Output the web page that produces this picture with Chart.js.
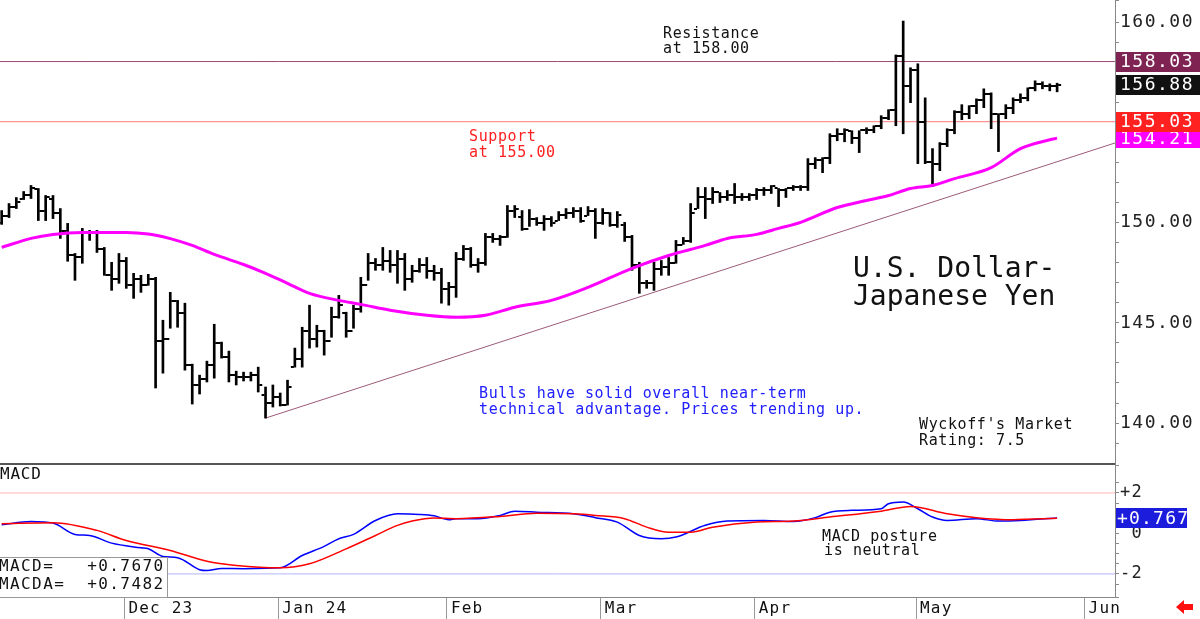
<!DOCTYPE html>
<html>
<head>
<meta charset="utf-8">
<script src="https://cdn.jsdelivr.net/npm/chart.js@4"></script>
<style>
  html, body { margin: 0; padding: 0; background: #fff; }
  #wrap { position: relative; width: 1200px; height: 619px; overflow: hidden; }
  canvas { position: absolute; left: 0; }
  #priceChart { top: 0; }
  #macdChart { top: 465px; }
</style>
</head>
<body>
<div id="wrap">
  <canvas id="priceChart" width="1200" height="465"></canvas>
  <canvas id="macdChart" width="1200" height="154"></canvas>
</div>
<script>
// daily bars, USD/JPY, Nov 8 2023 .. May 2024 (one value per trading day)
const highs = [
  150.60,150.95,151.25,151.55,151.85,151.70,151.35,151.35,150.70,149.96,
  148.46,149.71,149.61,149.61,148.76,148.02,148.46,148.26,147.47,147.37,
  147.42,147.27,145.13,146.52,146.12,145.98,142.94,142.39,143.09,144.93,
  144.04,143.59,142.59,142.54,142.54,142.79,141.80,141.90,141.50,142.14,
  143.74,144.78,145.88,144.88,144.63,145.78,146.37,145.53,145.88,147.27,
  148.46,148.21,148.76,148.61,148.61,148.46,147.87,148.21,148.26,147.87,
  147.72,147.02,148.51,148.86,148.76,148.21,149.46,149.46,149.36,150.85,
  150.85,150.60,150.65,150.25,150.35,150.30,150.55,150.70,150.75,150.75,
  150.80,150.70,150.70,150.50,150.55,150.01,149.36,148.02,147.12,148.02,
  148.11,148.26,149.11,149.26,150.95,151.75,151.75,151.75,151.50,151.60,
  151.95,151.45,151.45,151.70,151.75,151.85,151.70,151.70,151.85,151.85,
  153.19,153.24,153.24,154.43,154.68,154.68,154.58,154.58,154.73,154.83,
  155.33,155.63,158.36,160.05,157.72,157.92,156.22,153.69,153.99,154.68,
  155.58,155.88,155.83,156.17,156.67,156.47,155.43,155.88,156.22,156.42,
  156.72,157.07,157.02,156.92,156.95
];
const lows = [
  149.91,150.25,150.70,151.15,151.20,150.10,150.10,150.20,149.21,148.07,
  147.12,147.97,149.11,148.51,147.37,146.62,146.97,146.72,146.22,146.52,
  146.87,141.75,142.49,144.73,144.78,142.64,140.95,141.45,142.05,142.24,
  143.24,142.05,141.90,142.10,142.10,141.55,140.25,140.80,140.85,140.90,
  142.79,142.79,143.74,143.79,143.39,144.28,145.23,144.28,144.73,145.53,
  147.12,147.62,147.62,147.52,146.97,146.62,147.02,147.52,147.22,147.12,
  145.98,145.88,146.27,148.11,147.77,147.52,147.87,149.01,148.86,149.26,
  150.25,149.61,149.81,149.86,149.61,149.81,150.10,150.20,150.25,150.01,
  150.35,149.21,149.91,149.81,149.76,149.06,147.62,146.47,146.72,146.62,
  147.37,147.37,147.97,148.91,149.01,150.70,150.20,150.95,151.00,151.10,
  150.95,151.10,151.10,151.15,151.35,151.45,150.80,151.25,151.60,151.60,
  151.60,152.69,152.49,152.94,154.08,154.03,153.94,153.49,154.43,154.48,
  154.68,155.13,154.83,154.43,155.98,152.94,152.94,151.80,152.59,153.79,
  154.43,155.13,155.18,155.43,155.73,154.68,153.54,155.18,155.43,155.98,
  156.07,156.57,156.67,156.57,156.52
];
const opens = [
  150.00,150.35,150.80,151.20,151.40,151.65,150.60,151.20,150.50,149.60,
  148.40,148.30,149.50,149.50,148.70,147.40,147.20,148.10,146.90,147.20,
  146.90,147.20,144.10,144.20,146.10,145.50,142.90,141.90,142.20,142.90,
  144.00,143.30,142.40,142.30,142.30,142.40,141.40,141.00,141.30,140.90,
  142.80,143.20,144.60,144.20,144.60,144.10,145.30,145.50,144.60,145.70,
  146.90,148.00,147.90,148.10,147.90,148.20,147.20,147.60,147.90,147.60,
  147.50,146.70,146.80,148.20,148.70,147.90,148.00,149.30,149.20,149.30,
  150.60,150.30,149.70,150.20,150.00,150.20,150.10,150.40,150.50,150.60,
  150.35,150.60,150.00,150.50,149.90,149.90,149.30,147.90,147.00,147.00,
  147.70,147.80,148.00,148.90,149.10,150.70,151.30,151.20,151.50,151.30,
  151.40,151.30,151.30,151.40,151.60,151.60,151.70,151.60,151.70,151.75,
  151.75,152.90,153.10,153.20,154.30,154.40,154.58,154.20,154.60,154.60,
  154.80,155.20,155.60,158.30,156.80,157.60,155.00,153.00,152.90,153.90,
  154.60,155.50,155.40,155.80,156.10,156.40,155.40,155.40,155.70,156.10,
  156.20,156.70,156.90,156.80,156.80
];
const closes = [
  150.35,150.80,151.05,151.40,151.70,150.60,151.30,150.50,149.60,148.40,
  148.30,149.50,149.50,148.70,147.40,147.20,148.10,146.90,147.20,146.90,
  147.20,144.10,144.20,146.10,145.50,142.90,141.90,142.20,142.90,144.00,
  143.30,142.40,142.30,142.30,142.40,141.90,141.00,141.30,140.90,141.80,
  143.20,144.60,144.20,144.60,144.10,145.30,145.90,144.60,145.70,146.90,
  148.00,147.90,148.10,147.90,148.20,147.20,147.60,147.90,147.60,147.50,
  146.70,146.80,148.20,148.70,147.90,148.00,149.30,149.20,149.30,150.60,
  150.70,149.70,150.20,150.00,150.20,150.00,150.40,150.50,150.60,150.10,
  150.60,150.00,150.50,149.90,150.40,149.30,147.90,147.00,147.00,147.70,
  147.80,148.00,148.90,149.10,150.50,151.30,151.20,151.50,151.30,151.40,
  151.30,151.30,151.40,151.60,151.60,151.80,151.60,151.70,151.75,151.75,
  152.90,153.10,153.20,154.30,154.40,154.60,154.20,154.60,154.60,154.80,
  155.20,155.60,158.30,156.80,157.60,155.00,153.00,152.90,153.90,154.60,
  155.50,155.40,155.80,156.10,156.40,155.40,155.40,155.70,156.10,156.20,
  156.70,156.90,156.80,156.80,156.88
];

// moving average (read at these bar positions)
const maIdx = [0,4,7,11,17,20,23,26,29,33,36,39,42,46,49,53,58,62,66,
  70,75,80,86,91,96,99,103,106,109,114,118,121,124,127,130,135,139,143,144];
const maVal = [148.76,149.21,149.41,149.51,149.51,149.43,149.20,148.86,148.41,
  147.91,147.47,146.97,146.47,146.12,145.92,145.63,145.38,145.28,145.38,
  145.78,146.12,146.77,147.72,148.36,148.86,149.21,149.41,149.71,150.01,
  150.75,151.10,151.35,151.70,151.85,152.19,152.74,153.69,154.13,154.21];

// MACD and its average
const macdIdx = [0,4,7,10,12,15,19,20,22,24,27,28,30,33,38,41,44,46,48,51,
  54,57,59,61,62,65,68,70,73,78,81,84,87,90,92,96,99,104,108,111,
  113,116,120,121,123,125,127,129,133,136,139,144];
const macdVal = [0.43,0.59,0.51,-0.05,-0.10,-0.48,-0.71,-0.76,-1.14,-1.20,
  -1.79,-1.83,-1.73,-1.74,-1.70,-1.09,-0.64,-0.26,-0.05,0.64,
  0.97,0.94,0.87,0.68,0.73,0.73,0.89,1.09,1.05,0.97,
  0.78,0.56,-0.10,-0.26,-0.18,0.40,0.61,0.64,0.59,0.78,
  1.05,1.14,1.22,1.47,1.55,1.22,0.81,0.64,0.73,0.61,0.64,0.767];
const sigIdx = [0,7,13,17,23,28,32,38,42,47,51,54,56,59,62,68,73,78,81,85,
  88,91,94,97,103,108,113,120,124,129,133,138,144];
const sigVal = [0.48,0.53,0.15,-0.35,-0.84,-1.37,-1.58,-1.70,-1.50,-0.76,
  -0.10,0.40,0.61,0.76,0.73,0.84,1.00,0.97,0.89,0.73,
  0.31,0.06,0.06,0.31,0.56,0.61,0.81,1.10,1.33,0.97,0.78,0.68,0.748];

// levels and trend line
const resistance = 158.03;
const support = 155.03;
const trendX = [36, 151.9];
const trendY = [140.25, 153.97];

// axis labels
const priceLabels = [140, 145, 150, 160];
const macdLabels = { '2': '+2', '0': ' 0', '-2': '-2' };
const monthIdx = [17, 38, 61, 82, 103, 125, 148];
const monthLab = ['Dec 23', 'Jan 24', 'Feb', 'Mar', 'Apr', 'May', 'Jun'];

// last values shown on the right axis
const lastClose = 156.88;
const lastMa = 154.21;
const lastMacd = 0.767;
const macdText = '+0.7670';
const macdaText = '+0.7482';

const X_MIN = -0.23, X_MAX = 151.9;
const FONT = '"DejaVu Sans Mono", monospace';

function tickImage(side) {
  const c = document.createElement('canvas');
  c.width = 10; c.height = 2;
  const g = c.getContext('2d');
  g.fillStyle = '#000';
  if (side === 'open') g.fillRect(1, 0, 3, 2);
  else g.fillRect(6, 0, 3, 2);
  return c;
}

function txt(ctx, s, x, y, size, color, ls) {
  ctx.font = size + 'px ' + FONT;
  ctx.letterSpacing = (ls || 0) + 'px';
  ctx.fillStyle = color;
  ctx.textAlign = 'left';
  ctx.textBaseline = 'middle';
  ctx.fillText(s, x, y);
}

function fixY(s) { s.width = 85; s.paddingTop = 0; s.paddingBottom = 0; }

const idx = highs.map((_, i) => i);
const flat = (v) => [{ x: X_MIN, y: v }, { x: X_MAX, y: v }];

const priceDecor = {
  id: 'priceDecor',
  beforeDraw(chart) { chart.ctx.letterSpacing = '1.5px'; },
  afterDraw(chart) {
    const ctx = chart.ctx;
    const ys = chart.scales.y;
    ctx.save();
    // bottom separator
    ctx.fillStyle = '#555';
    ctx.fillRect(0, 463, 1115, 2);

    // value boxes on the axis
    const boxes = [
      { v: resistance, bg: '#7e2352' },
      { v: lastClose, bg: '#111111' },
      { v: lastMa, bg: '#ff00ff' },
      { v: support, bg: '#ff2020' }
    ];
    boxes.forEach(b => {
      const y = ys.getPixelForValue(b.v);
      ctx.fillStyle = b.bg;
      ctx.fillRect(1116, Math.round(y) - 10, 84, 20);
      txt(ctx, b.v.toFixed(2), 1120, y + 1, 18, '#fff', 1.5);
    });

    txt(ctx, 'Resistance', 663, 34, 15, '#111', 0.6);
    txt(ctx, 'at 158.00', 663, 49, 15, '#111', 0.6);
    txt(ctx, 'Support', 469, 137, 15, '#ff2020', 0.6);
    txt(ctx, 'at 155.00', 469, 153, 15, '#ff2020', 0.6);
    txt(ctx, 'U.S. Dollar-', 853, 270, 28, '#111', 0);
    txt(ctx, 'Japanese Yen', 853, 298, 28, '#111', 0);
    txt(ctx, 'Bulls have solid overall near-term', 479, 394, 15, '#2020ff', 0.6);
    txt(ctx, 'technical advantage. Prices trending up.', 479, 410, 15, '#2020ff', 0.6);
    txt(ctx, "Wyckoff's Market", 919, 425, 15, '#111', 0.6);
    txt(ctx, 'Rating: 7.5', 919, 441, 15, '#111', 0.6);
    ctx.restore();
  }
};

new Chart(document.getElementById('priceChart'), {
  type: 'line',
  data: {
    datasets: [
      { type: 'line', data: flat(resistance), borderColor: '#9a4a72', borderWidth: 1, pointRadius: 0, order: 6 },
      { type: 'line', data: flat(support), borderColor: '#ff7a7a', borderWidth: 1, pointRadius: 0, order: 6 },
      { type: 'line', data: trendX.map((x, i) => ({ x, y: trendY[i] })), borderColor: '#9c5a78', borderWidth: 1, pointRadius: 0, order: 6 },
      { type: 'bar', data: idx.map(i => ({ x: i, y: [lows[i], highs[i]] })), backgroundColor: '#000', barThickness: 2, borderWidth: 0, order: 4 },
      { type: 'scatter', data: idx.map(i => ({ x: i, y: opens[i] })), pointStyle: tickImage('open'), pointRadius: 1, order: 3 },
      { type: 'scatter', data: idx.map(i => ({ x: i, y: closes[i] })), pointStyle: tickImage('close'), pointRadius: 1, order: 3 },
      { type: 'line', data: maIdx.map((x, i) => ({ x, y: maVal[i] })), borderColor: '#ff00ff', borderWidth: 3, pointRadius: 0, cubicInterpolationMode: 'monotone', order: 1 }
    ]
  },
  options: {
    responsive: false,
    animation: false,
    layout: { padding: 0, autoPadding: false },
    plugins: { legend: { display: false }, tooltip: { enabled: false } },
    scales: {
      x: { type: 'linear', min: X_MIN, max: X_MAX, display: false, offset: false },
      y: {
        type: 'linear', position: 'right', min: 137.91, max: 161.10,
        afterFit: fixY,
        ticks: {
          stepSize: 1, autoSkip: false, padding: 1, color: '#222',
          font: { family: 'DejaVu Sans Mono', size: 18 },
          callback: v => priceLabels.some(p => Math.abs(p - v) < 1e-6) ? Number(v).toFixed(2) : ''
        },
        grid: { drawOnChartArea: false, tickLength: 4, color: '#888' },
        border: { color: '#888', width: 1 }
      }
    }
  },
  plugins: [priceDecor]
});

const macdDecor = {
  id: 'macdDecor',
  beforeDraw(chart) { chart.ctx.letterSpacing = '1.2px'; },
  afterDraw(chart) {
    const ctx = chart.ctx;
    const ys = chart.scales.y;
    ctx.save();
    txt(ctx, 'MACD', 0, 10, 16, '#111', 0.8);
    txt(ctx, 'MACD posture', 822, 72, 15, '#111', 0.6);
    txt(ctx, 'is neutral', 824, 86, 15, '#111', 0.6);

    // readout box
    ctx.fillStyle = '#fff';
    ctx.fillRect(-1, 92, 169, 40);
    ctx.strokeStyle = '#999';
    ctx.lineWidth = 1;
    ctx.strokeRect(-1.5, 92.5, 169, 40);
    txt(ctx, 'MACD=   ' + macdText, -1, 102, 16, '#111', 1.4);
    txt(ctx, 'MACDA=  ' + macdaText, -1, 120, 16, '#111', 1.4);

    // current MACD value box
    const y = ys.getPixelForValue(lastMacd);
    ctx.fillStyle = '#1c1cdc';
    ctx.fillRect(1116, Math.round(y) - 10, 71, 20);
    txt(ctx, '+' + lastMacd.toFixed(3), 1117, y + 1, 18, '#fff', 1.2);

    // little red arrow
    ctx.fillStyle = '#ff1010';
    ctx.beginPath();
    ctx.moveTo(1176, 142);
    ctx.lineTo(1184, 135);
    ctx.lineTo(1184, 139);
    ctx.lineTo(1193, 139);
    ctx.lineTo(1193, 145);
    ctx.lineTo(1184, 145);
    ctx.lineTo(1184, 149);
    ctx.closePath();
    ctx.fill();
    ctx.restore();
  }
};

new Chart(document.getElementById('macdChart'), {
  type: 'line',
  data: {
    datasets: [
      { data: flat(2), borderColor: '#ffb4b4', borderWidth: 1, pointRadius: 0 },
      { data: flat(-2), borderColor: '#b4b4ff', borderWidth: 1, pointRadius: 0 },
      { data: sigIdx.map((x, i) => ({ x, y: sigVal[i] })), borderColor: '#ff0000', borderWidth: 1.5, pointRadius: 0, cubicInterpolationMode: 'monotone' },
      { data: macdIdx.map((x, i) => ({ x, y: macdVal[i] })), borderColor: '#0000ff', borderWidth: 1.5, pointRadius: 0, cubicInterpolationMode: 'monotone' }
    ]
  },
  options: {
    responsive: false,
    animation: false,
    layout: { padding: 0, autoPadding: false },
    plugins: { legend: { display: false }, tooltip: { enabled: false } },
    scales: {
      x: {
        type: 'linear', min: X_MIN, max: X_MAX, position: 'bottom', offset: false,
        afterBuildTicks(s) { s.ticks = monthIdx.map(v => ({ value: v - 0.25 })); },
        afterFit(s) { s.height = 22; s.paddingLeft = 0; s.paddingRight = 0; },
        ticks: {
          autoSkip: false, maxRotation: 0, align: 'start', labelOffset: 4, padding: -20,
          color: '#111', font: { family: 'DejaVu Sans Mono', size: 16 },
          callback: (v, i) => monthLab[i]
        },
        grid: { drawOnChartArea: false, tickLength: 22, color: '#999', offset: false },
        border: { color: '#888', width: 1 }
      },
      y: {
        type: 'linear', position: 'right', min: -3.14, max: 3.38,
        afterFit: fixY,
        ticks: {
          stepSize: 0.5, autoSkip: false, padding: 1, color: '#222',
          font: { family: 'DejaVu Sans Mono', size: 17 },
          callback: v => macdLabels[String(v)] || ''
        },
        grid: { drawOnChartArea: false, tickLength: 4, color: '#888' },
        border: { color: '#888', width: 1 }
      }
    }
  },
  plugins: [macdDecor]
});
</script>
</body>
</html>
